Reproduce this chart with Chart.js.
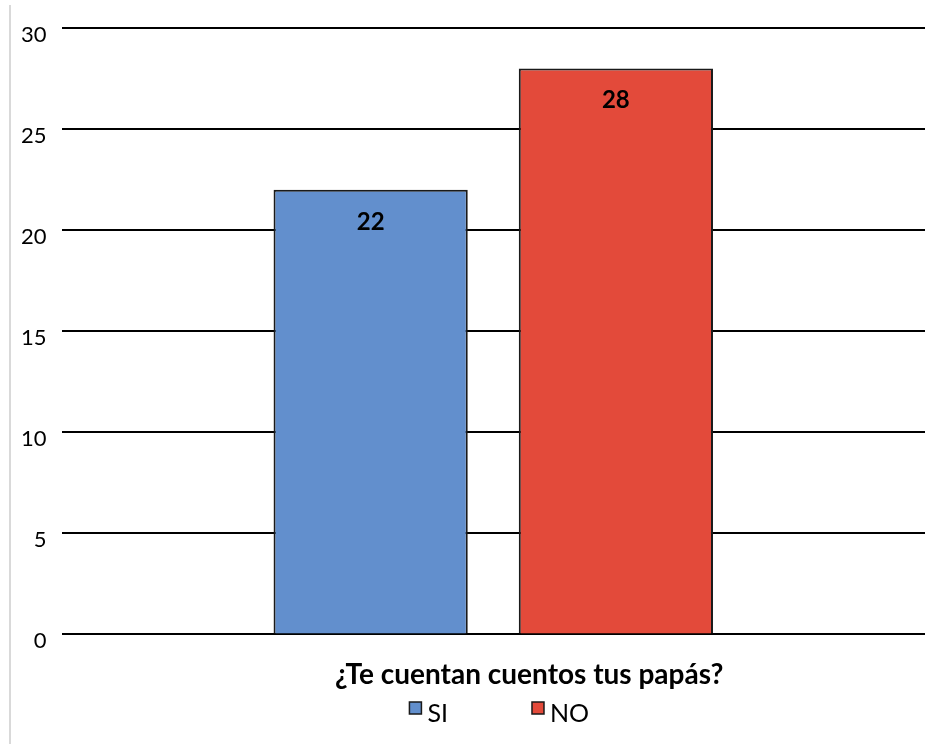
<!DOCTYPE html>
<html>
<head>
<meta charset="utf-8">
<script src="https://cdn.jsdelivr.net/npm/chart.js@4"></script>
<style>
  html, body { margin: 0; padding: 0; background: #fff; }
  #wrap { position: relative; width: 940px; height: 744px; }
  #frame { position: absolute; left: 9px; top: 5px; bottom: 0; width: 2px; background: #d9d9d9; }
  canvas { position: absolute; left: 0; top: 0; }
</style>
</head>
<body>
<div id="wrap">
  <div id="frame"></div>
  <canvas id="c" width="940" height="744"></canvas>
</div>
<script>
const categories = ['¿Te cuentan cuentos tus papás?'];
const seriesNames = ['SI', 'NO'];
const siValues = [22];
const noValues = [28];
const yTicks = [0, 5, 10, 15, 20, 25, 30];

const FONT = 'Lato, "Liberation Sans", sans-serif';

// Value labels drawn inside the top of each bar
const valueLabels = {
  id: 'valueLabels',
  afterDatasetsDraw(chart) {
    const ctx = chart.ctx;
    ctx.save();
    ctx.font = 'bold 24px ' + FONT;
    ctx.fillStyle = '#000';
    ctx.textAlign = 'center';
    ctx.textBaseline = 'middle';
    chart.data.datasets.forEach((ds, i) => {
      chart.getDatasetMeta(i).data.forEach((bar, j) => {
        ctx.fillText(String(ds.data[j]), bar.x, bar.y + 32);
      });
    });
    ctx.restore();
  }
};

// Bottom legend: small outlined squares with series names, widely spaced
const bottomLegend = {
  id: 'bottomLegend',
  afterDraw(chart) {
    const ctx = chart.ctx;
    const area = chart.chartArea;
    const box = 12, gap = 6, itemGap = 84;
    ctx.save();
    ctx.font = '25px ' + FONT;
    ctx.textBaseline = 'middle';
    const items = chart.data.datasets.map(ds => ({
      text: ds.label, color: ds.backgroundColor, w: box + gap + ctx.measureText(ds.label).width
    }));
    const total = items.reduce((s, it) => s + it.w, 0) + itemGap * (items.length - 1);
    let x = (area.left + area.right) / 2 - total / 2 + 6;
    const y = chart.height - 32;
    items.forEach(it => {
      ctx.fillStyle = it.color;
      ctx.fillRect(x, y - 10, box, box);
      ctx.strokeStyle = '#1a1a1a';
      ctx.lineWidth = 1.5;
      ctx.strokeRect(x, y - 10, box, box);
      ctx.fillStyle = '#000';
      ctx.fillText(it.text, x + box + gap, y + 2);
      x += it.w + itemGap;
    });
    ctx.restore();
  }
};

new Chart(document.getElementById('c'), {
  type: 'bar',
  data: {
    labels: categories,
    datasets: [
      { label: seriesNames[0], data: siValues, backgroundColor: '#628fcd', borderColor: '#1a1a1a', borderWidth: 2 },
      { label: seriesNames[1], data: noValues, backgroundColor: '#e34a3a', borderColor: '#1a1a1a', borderWidth: 2 }
    ]
  },
  options: {
    responsive: false,
    animation: false,
    layout: { padding: { left: 6, right: 15, top: 18, bottom: 36 } },
    datasets: { bar: { categoryPercentage: 0.568, barPercentage: 0.792 } },
    plugins: {
      tooltip: { enabled: false },
      legend: { display: false }
    },
    scales: {
      x: {
        grid: { display: false },
        border: { display: false },
        ticks: { color: '#000', padding: 16, labelOffset: 36, font: { family: FONT, size: 28, weight: 'bold' } }
      },
      y: {
        min: 0, max: 30,
        afterBuildTicks(axis) { axis.ticks = yTicks.map(v => ({ value: v })); },
        grid: { color: '#000', lineWidth: 2, drawTicks: false },
        border: { display: false },
        ticks: { color: '#000', padding: 15, labelOffset: 7, font: { family: FONT, size: 22 } }
      }
    }
  },
  plugins: [valueLabels, bottomLegend]
});
</script>
</body>
</html>
